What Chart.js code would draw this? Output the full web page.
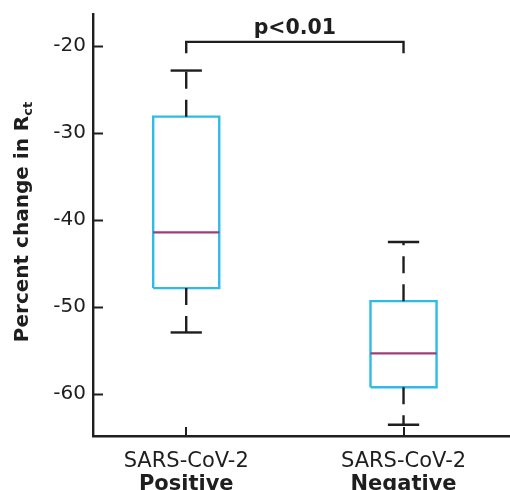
<!DOCTYPE html>
<html>
<head>
<meta charset="utf-8">
<script src="https://cdn.jsdelivr.net/npm/chart.js@4.4.0/dist/chart.umd.min.js"></script>
<style>
  html, body { margin: 0; padding: 0; background: #fff; }
  #wrap { width: 510px; height: 490px; }
</style>
</head>
<body>
<div id="wrap"><canvas id="myChart" width="510" height="490"></canvas></div>
<script>
// data
const groupTop = ['SARS-CoV-2', 'SARS-CoV-2'];
const groupName = ['Positive', 'Negative'];
const whiskerLow = [-52.9, -63.5];
const q1 = [-47.8, -59.2];
const median = [-41.4, -55.3];
const q3 = [-28.1, -49.3];
const whiskerHigh = [-22.8, -42.5];
const yTicks = [-60, -50, -40, -30, -20];
const pLabel = 'p<0.01';
const bracketLevel = [-19.5, -20.8];

const ink = '#1e1e1e';
const boxBlue = '#2fbbe8';
const medianColor = '#9c3f78';
const fontFam = '"DejaVu Sans", Verdana, sans-serif';
const halfBox = 0.152;
const halfCap = 0.072;

const line = (data, color, dash) => ({
    data: data,
    showLine: true,
    borderColor: color,
    borderWidth: 2.4,
    borderDash: dash || [],
    pointRadius: 0,
    tension: 0,
    borderJoinStyle: 'miter',
    clip: false
});

let datasets = [];
for (let i = 0; i < groupName.length; i++) {
    let x = i + 1;
    datasets.push(line([{x: x, y: q3[i]}, {x: x, y: whiskerHigh[i]}], ink, [17, 11]));
    datasets.push(line([{x: x, y: q1[i]}, {x: x, y: whiskerLow[i]}], ink, [17, 11]));
    datasets.push(line([{x: x - halfCap, y: whiskerHigh[i]}, {x: x + halfCap, y: whiskerHigh[i]}], ink));
    datasets.push(line([{x: x - halfCap, y: whiskerLow[i]}, {x: x + halfCap, y: whiskerLow[i]}], ink));
    datasets.push(line([{x: x - halfBox, y: median[i]}, {x: x + halfBox, y: median[i]}], medianColor));
    datasets.push(line([
        {x: x - halfBox, y: q1[i]}, {x: x + halfBox, y: q1[i]},
        {x: x + halfBox, y: q3[i]}, {x: x - halfBox, y: q3[i]},
        {x: x - halfBox, y: q1[i]}
    ], boxBlue));
}
// significance bracket
datasets.push(line([
    {x: 1, y: bracketLevel[1]}, {x: 1, y: bracketLevel[0]},
    {x: 2, y: bracketLevel[0]}, {x: 2, y: bracketLevel[1]}
], ink));

const extras = {
    id: 'extras',
    afterDraw(chart) {
        const ctx = chart.ctx;
        const xs = chart.scales.x, ys = chart.scales.y;
        const area = chart.chartArea;
        ctx.save();
        ctx.strokeStyle = ink;
        ctx.lineWidth = 2;
        // inward ticks
        yTicks.forEach(v => {
            let py = Math.round(ys.getPixelForValue(v)) + 0.5;
            ctx.beginPath();
            ctx.moveTo(area.left, py);
            ctx.lineTo(area.left + 10, py);
            ctx.stroke();
        });
        groupName.forEach((g, i) => {
            let px = Math.round(xs.getPixelForValue(i + 1));
            ctx.beginPath();
            ctx.moveTo(px, area.bottom);
            ctx.lineTo(px, area.bottom - 9);
            ctx.stroke();
        });
        // category labels
        ctx.fillStyle = ink;
        ctx.textAlign = 'center';
        ctx.textBaseline = 'alphabetic';
        groupName.forEach((g, i) => {
            let px = xs.getPixelForValue(i + 1);
            ctx.font = '21px ' + fontFam;
            ctx.fillText(groupTop[i], px, 467);
            ctx.font = 'bold 21px ' + fontFam;
            ctx.fillText(g, px, 490);
        });
        // p value
        ctx.font = 'bold 20.5px ' + fontFam;
        ctx.fillText(pLabel, (xs.getPixelForValue(1) + xs.getPixelForValue(2)) / 2, 34);
        // y title with subscript
        const main = 'Percent change in R';
        const sub = 'ct';
        ctx.font = 'bold 20px ' + fontFam;
        let w1 = ctx.measureText(main).width;
        ctx.font = 'bold 13px ' + fontFam;
        let w2 = ctx.measureText(sub).width;
        let total = w1 + w2;
        ctx.translate(28, 222);
        ctx.rotate(-Math.PI / 2);
        ctx.textAlign = 'left';
        ctx.font = 'bold 20px ' + fontFam;
        ctx.fillText(main, -total / 2, 0);
        ctx.font = 'bold 13px ' + fontFam;
        ctx.fillText(sub, -total / 2 + w1, 4);
        ctx.restore();
    }
};

let ctx = document.getElementById('myChart').getContext('2d');
let myChart = new Chart(ctx, {
    type: 'scatter',
    data: { datasets: datasets },
    options: {
        responsive: false,
        animation: false,
        layout: { padding: { top: 14, right: 0, bottom: 0, left: 0 } },
        plugins: { legend: { display: false }, tooltip: { enabled: false } },
        scales: {
            x: {
                type: 'linear',
                min: 0.571,
                max: 2.49,
                grid: { display: false, drawTicks: false },
                border: { color: ink, width: 2.4 },
                ticks: { display: false },
                afterFit: (scale) => { scale.height = 54; scale.paddingLeft = 0; scale.paddingRight = 0; }
            },
            y: {
                type: 'linear',
                min: -64.8,
                max: -16.3,
                afterBuildTicks: (scale) => { scale.ticks = yTicks.map(v => ({value: v})); },
                grid: { drawOnChartArea: false, drawTicks: false },
                border: { color: ink, width: 2.4 },
                ticks: {
                    color: ink,
                    padding: 7,
                    font: { family: fontFam, size: 20 },
                    callback: (v) => String(v)
                },
                afterFit: (scale) => { scale.width = 93; scale.paddingTop = 0; scale.paddingBottom = 0; }
            }
        }
    },
    plugins: [extras]
});
</script>
</body>
</html>
